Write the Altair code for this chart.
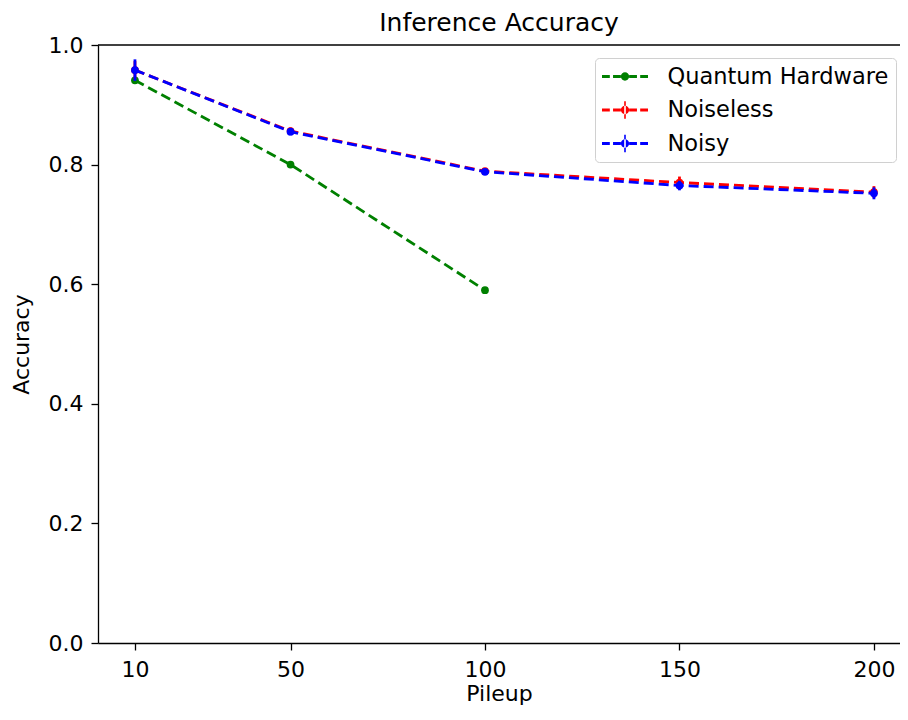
import altair as alt
import pandas as pd

pileup_hw = [10, 50, 100]
acc_hw = [0.941, 0.800, 0.590]

pileup_sim = [10, 50, 100, 150, 200]
acc_noiseless = [0.958, 0.856, 0.789, 0.770, 0.754]
err_noiseless = [0.015, 0.006, 0.005, 0.010, 0.010]
acc_noisy = [0.958, 0.855, 0.788, 0.765, 0.752]
err_noisy = [0.018, 0.006, 0.005, 0.008, 0.010]

series_names = ["Quantum Hardware", "Noiseless", "Noisy"]
series_colors = ["#008000", "#ff0000", "#0000ff"]
x_ticks = [10, 50, 100, 150, 200]
y_ticks = [0.0, 0.2, 0.4, 0.6, 0.8, 1.0]

FONT = "DejaVu Sans"

def mk_df(name, xs, ys, es=None):
    rows = []
    for i, (x, y) in enumerate(zip(xs, ys)):
        e = es[i] if es else 0.0
        rows.append({"series": name, "pileup": x, "acc": y, "lo": y - e, "hi": y + e})
    return pd.DataFrame(rows)

df_hw = mk_df("Quantum Hardware", pileup_hw, acc_hw)
df_nl = mk_df("Noiseless", pileup_sim, acc_noiseless, err_noiseless)
df_ny = mk_df("Noisy", pileup_sim, acc_noisy, err_noisy)
df_all = pd.concat([df_hw, df_nl, df_ny], ignore_index=True)

xscale = alt.Scale(domain=[0.5, 206.7], nice=False, zero=False)
yscale = alt.Scale(domain=[0, 1], nice=False)

X = alt.X("pileup:Q", scale=xscale, title="Pileup",
          axis=alt.Axis(values=x_ticks, grid=False, format="d", labelPadding=9))
Y = alt.Y("acc:Q", scale=yscale, title="Accuracy",
          axis=alt.Axis(values=y_ticks, format=".1f", grid=False, labelPadding=8))

def series_layers(df, color, errbars):
    base = alt.Chart(df)
    layers = [base.mark_line(color=color, strokeWidth=2.8, strokeDash=[10, 5]).encode(x=X, y=Y)]
    if errbars:
        layers.append(base.mark_rule(color=color, strokeWidth=2.8).encode(
            x=X, y=alt.Y("lo:Q", scale=yscale), y2="hi:Q"))
    layers.append(base.mark_circle(color=color, size=60, opacity=1).encode(x=X, y=Y))
    return layers

# legend handle glyphs (x in [-2, 2], scaled by sqrt(size)/2)
h = 0.13
def rect(a, b):
    return f"M{a},{-h}H{b}V{h}H{a}Z"
r = 0.36
circle = f"M{-r},0A{r},{r} 0 1,0 {r},0A{r},{r} 0 1,0 {-r},0Z"
dashes = rect(-2, -1.32) + rect(-1.04, -0.36) + rect(0.36, 1.04) + rect(1.32, 2)
errbar = "M-0.07,-0.76H0.07V0.76H-0.07Z"
path_plain = dashes + circle
path_err = dashes + circle + errbar

legend_layer = alt.Chart(df_all).mark_point(filled=True, size=0, opacity=1).encode(
    x=X, y=Y,
    color=alt.Color("series:N", title=None,
                    scale=alt.Scale(domain=series_names, range=series_colors),
                    legend=alt.Legend(orient="none", legendX=497, legendY=13,
                                      symbolSize=529, symbolStrokeWidth=0,
                                      symbolOffset=11.5,
                                      symbolOpacity=1, labelLimit=0,
                                      labelFontSize=22.5, labelFont=FONT, labelColor="#000000",
                                      labelOffset=31, padding=7, rowPadding=10.5,
                                      fillColor="white", strokeColor="#d0d0d0",
                                      cornerRadius=4)),
    shape=alt.Shape("series:N", title=None,
                    scale=alt.Scale(domain=series_names, range=[path_plain, path_err, path_err])),
)

top_border = alt.Chart(pd.DataFrame({"v": [1.0]})).mark_rule(
    color="#000000", strokeWidth=1.3).encode(y=alt.Y("v:Q", scale=yscale))

layers = (series_layers(df_hw, series_colors[0], False)
          + series_layers(df_nl, series_colors[1], True)
          + series_layers(df_ny, series_colors[2], True)
          + [legend_layer, top_border])

chart = alt.layer(*layers).properties(
    width=802, height=598,
    title=alt.TitleParams("Inference Accuracy", fontSize=25, font=FONT, fontWeight="normal",
                          color="#000000", offset=-2),
    autosize=alt.AutoSizeParams(type="none"),
    padding={"left": 90, "top": 37, "right": 0, "bottom": 64},
).configure_view(stroke=None).configure_axis(
    labelFont=FONT, labelFontSize=22, labelColor="#000000",
    titleFont=FONT, titleFontSize=22, titleColor="#000000", titleFontWeight="normal",
    domainColor="#000000", domainWidth=1.3, tickColor="#000000", tickWidth=1.3, tickSize=7,
).configure_axisX(titlePadding=3).configure_axisY(titlePadding=15)

chart.save("out.html", embed_options={"renderer": "svg", "actions": False})
